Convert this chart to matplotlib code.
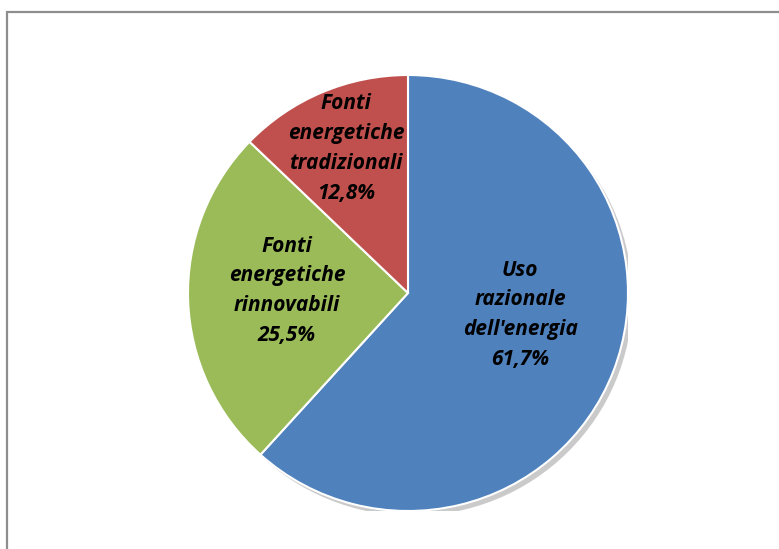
import matplotlib
matplotlib.use('Agg')
import matplotlib.pyplot as plt
import matplotlib.patches as mpatches
import numpy as np

# dati del grafico
categorie = ["Uso\nrazionale\ndell'energia", "Fonti\nenergetiche\nrinnovabili", "Fonti\nenergetiche\ntradizionali"]
percentuali = [61.7, 25.5, 12.8]
colori = ['#4f81bd', '#9bbb59', '#c0504d']

fig = plt.figure(figsize=(7.79, 5.49), dpi=100)

# cornice grigia (tagliata a destra e in basso come nell'originale)
fig.patches.append(mpatches.Rectangle((6.5 / 779, -0.1), 1.2, 1 - 12.5 / 549 + 0.1,
                                      transform=fig.transFigure, fill=False,
                                      edgecolor='#8e8e8e', linewidth=1.6))

ax = fig.add_axes([188 / 779, 38 / 549, 440 / 779, 436 / 549])

# ombra
ax.add_patch(mpatches.Ellipse((0.02, -0.022), 2.0, 2.0, facecolor='#a8a8a8',
                              edgecolor='none', alpha=0.6, zorder=0))

wedges, _ = ax.pie(percentuali, colors=colori, startangle=90, counterclock=False,
                   radius=1.0, wedgeprops=dict(edgecolor='white', linewidth=1.5))

# posizioni delle etichette: (raggio, correzione angolo)
pos = [(0.52, 10), (0.55, -3), (0.72, 0)]
for w, cat, p, (r, da) in zip(wedges, categorie, percentuali, pos):
    ang = np.deg2rad((w.theta1 + w.theta2) / 2 + da)
    testo = cat + '\n' + ('%.1f%%' % p).replace('.', ',')
    ax.text(r * np.cos(ang), r * np.sin(ang), testo, ha='center', va='center',
            fontsize=15, fontweight='bold', fontstyle='italic', family='Open Sans',
            linespacing=1.55, color='black')

ax.set_xlim(-1, 1)
ax.set_ylim(-1, 1)
ax.set_aspect('auto')
ax.axis('off')

fig.savefig('out.png', dpi=100)
